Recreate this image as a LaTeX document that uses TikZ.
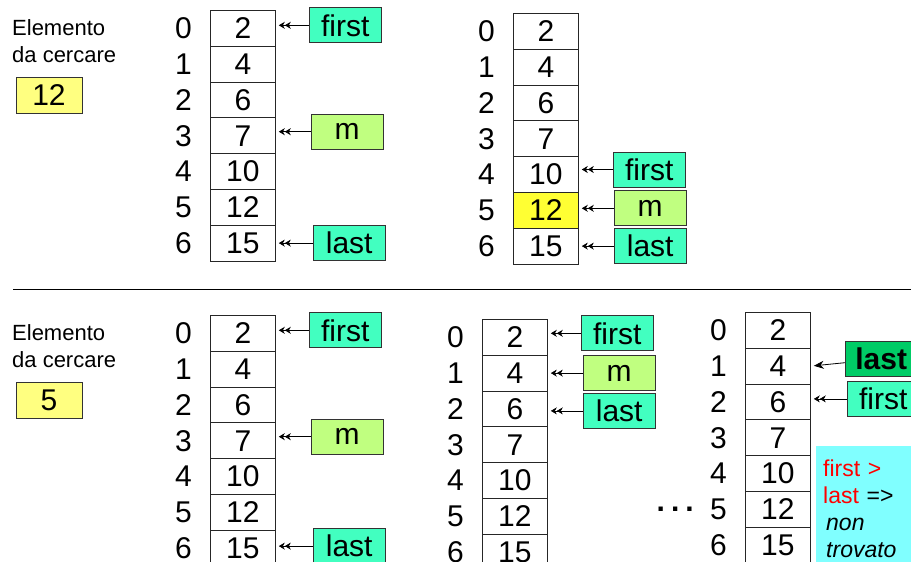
\documentclass[tikz,border=0pt]{standalone}
\usepackage{fontspec}
\setmainfont{Liberation Sans}
\usetikzlibrary{arrows.meta, positioning}
\definecolor{PointerTeal}{RGB}{66,255,192}
\definecolor{MidGreen}{RGB}{192,255,128}
\definecolor{KeyYellow}{RGB}{255,255,128}
\definecolor{HitYellow}{RGB}{255,255,51}
\definecolor{LastGreen}{RGB}{0,204,102}
\definecolor{NoteCyan}{RGB}{128,255,255}

\newcommand{\cellfont}{\fontsize{30}{32}\selectfont}
\newcommand{\tagfont}{\fontsize{30}{32}\selectfont}

% one array of the search: name, left x, top y, highlighted index
\newcommand{\searcharray}[4]{%
  \foreach \v [count=\i from 0] in {2,4,6,7,10,12,15} {
    \ifnum\i=#4 \def\cellcol{HitYellow}\else\def\cellcol{white}\fi
    \node[cellbox, fill=\cellcol, anchor=north west] (#1-\i) at (#2, {#3+\i*35.8}) {\v};
    \node[idxlabel, left=18pt of #1-\i] (#1-i\i) {\i};
  }}

\tikzset{
  cellbox/.style={draw=black!85, line width=0.8pt, minimum width=65pt,
                  minimum height=35.8pt, inner sep=0pt, font=\cellfont},
  idxlabel/.style={inner sep=0pt, font=\cellfont},
  ptrbox/.style={draw=black!80, line width=0.8pt, fill=PointerTeal,
                 minimum width=72pt, minimum height=35pt, inner sep=0pt, font=\tagfont},
  midbox/.style={ptrbox, fill=MidGreen},
  keybox/.style={draw=black!80, line width=0.8pt, fill=KeyYellow,
                 minimum width=66pt, minimum height=36pt, inner sep=0pt, font=\cellfont},
  ptr/.style={-{Stealth[length=6pt,width=7pt]Stealth[length=6pt,width=7pt]},
              line width=0.8pt, shorten >=3pt},
}

\begin{document}
\begin{tikzpicture}[x=1pt, y=-1pt]
  \useasboundingbox (0,0) rectangle (911,562);
  \clip (0,0) rectangle (911,562);
  \fill[white] (0,0) rectangle (911,562);

  % key to look for
  \node[inner sep=0pt, anchor=north west, align=left,
        font=\fontsize{22}{27}\selectfont] (what1) at (12,19) {Elemento\\da cercare};
  \node[keybox] (key1) at (49,95) {12};
  \node[inner sep=0pt, anchor=north west, align=left,
        font=\fontsize{22}{27}\selectfont] (what2) at (12,324) {Elemento\\da cercare};
  \node[keybox] (key2) at (49,400) {5};

  \draw[line width=0.8pt] (13,289) -- (911,289);

  % search for 12
  \searcharray{t1}{210}{10}{-1}
  \node[ptrbox, right=33pt of t1-0, yshift=3pt] (first1) {first};
  \node[midbox, right=35pt of t1-3, yshift=4pt] (mid1) {m};
  \node[ptrbox, right=37pt of t1-6] (last1) {last};
  \draw[ptr] (first1) -- (first1 -| t1-0.east);
  \draw[ptr] (mid1) -- (mid1 -| t1-3.east);
  \draw[ptr] (last1) -- (last1 -| t1-6.east);

  \searcharray{t2}{513}{13}{5}
  \node[ptrbox, right=34pt of t2-4, yshift=5pt] (first2) {first};
  \node[midbox, right=35pt of t2-5, yshift=2pt] (mid2) {m};
  \node[ptrbox, right=35pt of t2-6] (last2) {last};
  \draw[ptr] (first2) -- (first2 -| t2-4.east);
  \draw[ptr] (mid2) -- (mid2 -| t2-5.east);
  \draw[ptr] (last2) -- (last2 -| t2-6.east);

  % search for 5
  \searcharray{b1}{210}{315}{-1}
  \node[ptrbox, right=33pt of b1-0, yshift=3pt] (first3) {first};
  \node[midbox, right=35pt of b1-3, yshift=4pt] (mid3) {m};
  \node[ptrbox, right=37pt of b1-6, yshift=2pt] (last3) {last};
  \draw[ptr] (first3) -- (first3 -| b1-0.east);
  \draw[ptr] (mid3) -- (mid3 -| b1-3.east);
  \draw[ptr] (last3) -- (last3 -| b1-6.east);

  \searcharray{b2}{482}{319}{-1}
  \node[ptrbox, right=33pt of b2-0, yshift=4pt] (first4) {first};
  \node[midbox, right=35pt of b2-1] (mid4) {m};
  \node[ptrbox, right=35pt of b2-2, yshift=-2pt] (last4) {last};
  \draw[ptr] (first4) -- (first4 -| b2-0.east);
  \draw[ptr] (mid4) -- (mid4 -| b2-1.east);
  \draw[ptr] (last4) -- (last4 -| b2-2.east);

  \searcharray{b3}{745}{312}{-1}
  \node[idxlabel, left=16pt of b3-i5, font=\cellfont\bfseries] (dots) {.\hspace{6pt}.\hspace{6pt}.};
  \node[ptrbox, fill=LastGreen, font=\tagfont\bfseries, right=34pt of b3-1, yshift=7pt] (last5) {last};
  \node[ptrbox, right=36pt of b3-2, yshift=3pt] (first5) {first};
  \draw[-{Stealth[length=10pt,width=8pt]}, line width=0.8pt, shorten >=3pt] (last5) -- (b3-1.east);
  \draw[ptr] (first5) -- (first5 -| b3-2.east);

  \node[fill=NoteCyan, anchor=north west, align=left, inner xsep=7pt, inner ysep=3pt,
        text width=90pt, minimum height=125pt, font=\fontsize{23}{27}\selectfont]
        (note) at (816,446)
        {{\color{red}first >}\\{\color{red}last} =>\\\hspace*{3pt}\textit{non}\\\hspace*{3pt}\textit{trovato}};
\end{tikzpicture}
\end{document}
